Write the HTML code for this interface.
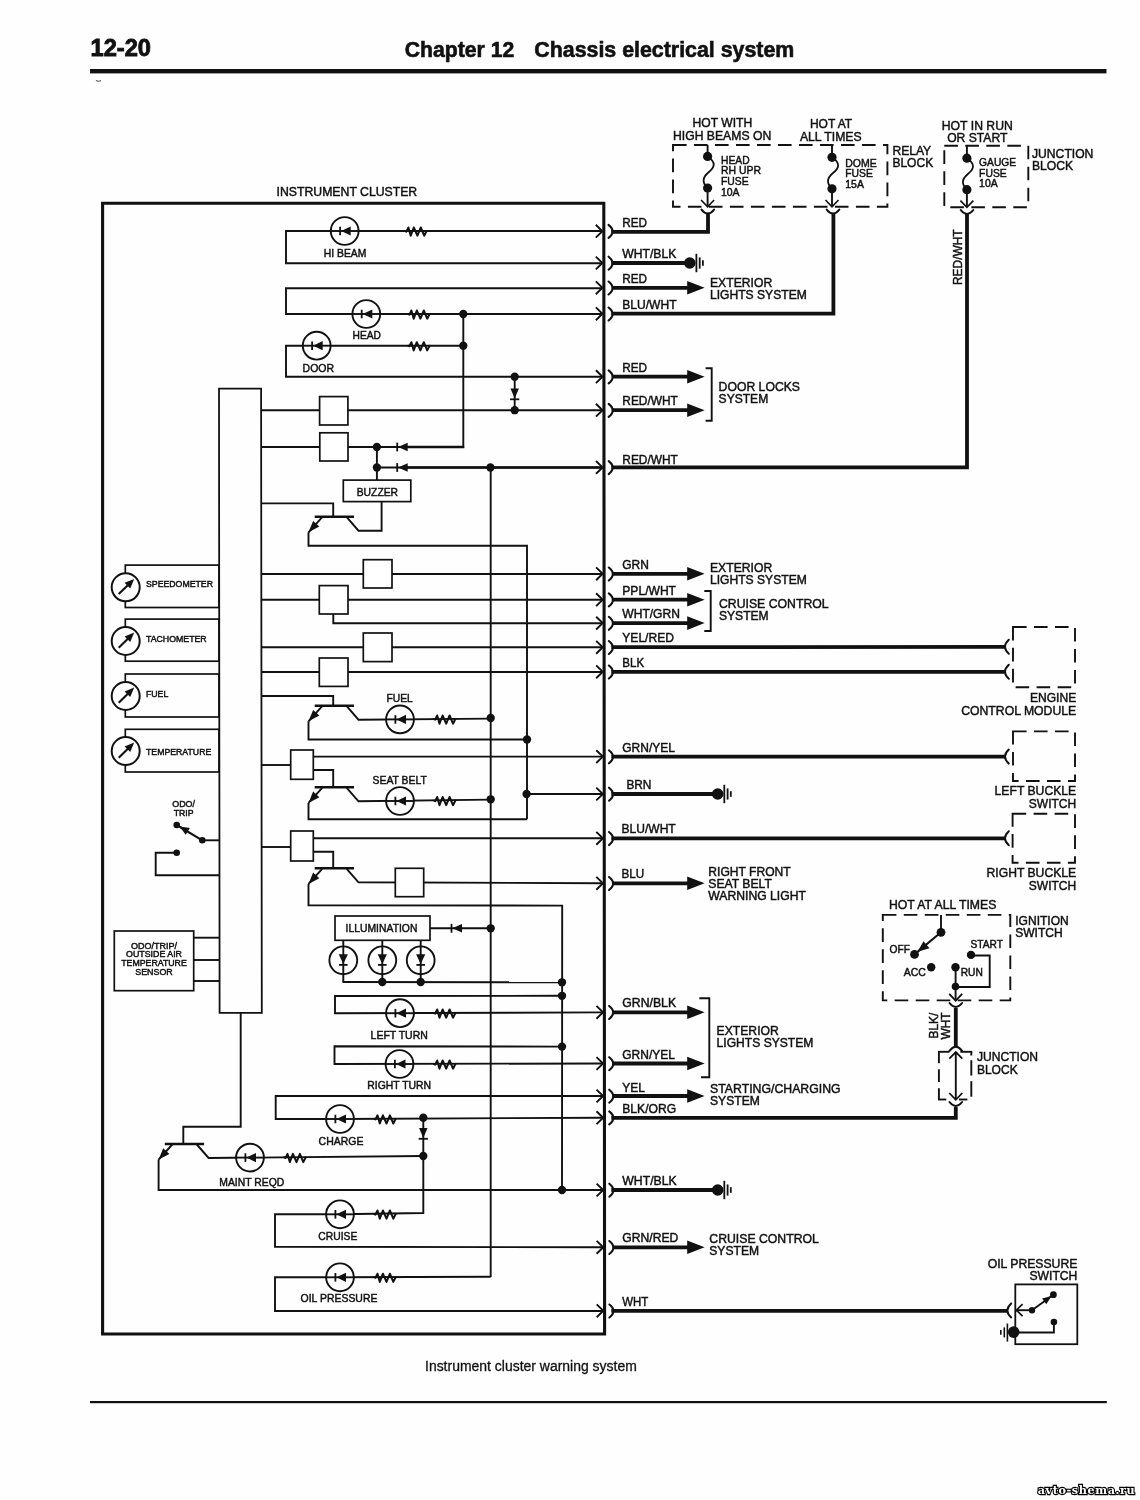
<!DOCTYPE html>
<html lang="en"><head><meta charset="utf-8"><title>Chapter 12 Chassis electrical system - Instrument cluster warning system</title>
<style>
html,body{margin:0;padding:0;background:#fefefe;}
body{width:1140px;height:1500px;overflow:hidden;}
svg{display:block;filter:grayscale(1);}
svg text{font-family:"Liberation Sans",Arial,Helvetica,sans-serif;}
</style></head>
<body>
<svg width="1140" height="1500" viewBox="0 0 1140 1500">
<g stroke="#111" fill="none">
<rect x="90" y="69" width="1016.5" height="4.4" fill="#111" stroke="none"/>
<text x="90.5" y="56.2" font-size="24" textLength="60.5" lengthAdjust="spacingAndGlyphs" font-weight="bold" fill="#111" stroke-width="0.9">12-20</text>
<text x="404.8" y="57.3" font-size="21.3" textLength="109.5" lengthAdjust="spacingAndGlyphs" font-weight="bold" fill="#111" stroke-width="0.6">Chapter 12</text>
<text x="534.3" y="57.3" font-size="21.3" textLength="260" lengthAdjust="spacingAndGlyphs" font-weight="bold" fill="#111" stroke-width="0.6">Chassis electrical system</text>
<rect x="90" y="1401" width="1016.8" height="2.2" fill="#111" stroke="none"/>
<text x="425" y="1370.8" font-size="14" textLength="211.8" lengthAdjust="spacingAndGlyphs" fill="#111" stroke-width="0.3">Instrument cluster warning system</text>
<text x="276.6" y="196" font-size="12.2" textLength="140.6" lengthAdjust="spacingAndGlyphs" fill="#111" stroke-width="0.45">INSTRUMENT CLUSTER</text>
<path d="M96,80.6 Q98.5,82 101,80.6" stroke="#555" stroke-width="1.1" fill="none"/>
<polygon points="102.6,203.2 603.8,203.2 604.6,1334 102.6,1334" stroke-width="3.1" fill="none"/>
<polyline points="602,231 286,231 286,263.3 602,263.3" stroke-width="1.9" stroke-linejoin="miter" stroke-linecap="butt"/>
<circle cx="344.7" cy="231" r="13.9" stroke-width="1.9" fill="#fff"/>
<line x1="330.8" y1="231" x2="358.6" y2="231" stroke-width="1.9" stroke-linecap="butt"/>
<line x1="340.1" y1="226.7" x2="340.1" y2="235.3" stroke-width="1.8" stroke-linecap="butt"/>
<polygon points="341.1,231 350.7,226.4 350.7,235.6" fill="#111" stroke="none"/>
<polyline points="405.2,231 406.4,231.6 408.4,227.5 410.7,235.7 413.8,227.5 417.4,235.7 420.8,227.5 424.2,235.7 426.6,231" stroke-width="2" stroke-linejoin="round" stroke-linecap="round"/>
<text x="323.8" y="256.6" font-size="10.5" textLength="42.6" lengthAdjust="spacingAndGlyphs" fill="#111" stroke-width="0.45">HI BEAM</text>
<polyline points="602,288.2 286,288.2 286,314 602,314" stroke-width="1.9" stroke-linejoin="miter" stroke-linecap="butt"/>
<circle cx="366.3" cy="314" r="13.9" stroke-width="1.9" fill="#fff"/>
<line x1="352.4" y1="314" x2="380.2" y2="314" stroke-width="1.9" stroke-linecap="butt"/>
<line x1="361.7" y1="309.7" x2="361.7" y2="318.3" stroke-width="1.8" stroke-linecap="butt"/>
<polygon points="362.7,314 372.3,309.4 372.3,318.6" fill="#111" stroke="none"/>
<polyline points="408.2,314 409.4,314.6 411.4,310.5 413.7,318.7 416.8,310.5 420.4,318.7 423.8,310.5 427.2,318.7 429.6,314" stroke-width="2" stroke-linejoin="round" stroke-linecap="round"/>
<text x="352.6" y="339" font-size="10.5" textLength="28.4" lengthAdjust="spacingAndGlyphs" fill="#111" stroke-width="0.45">HEAD</text>
<circle cx="463.3" cy="314" r="4.15" fill="#111" stroke="none"/>
<polyline points="463.3,345.7 286,345.7 286,376.7 602,376.7" stroke-width="1.9" stroke-linejoin="miter" stroke-linecap="butt"/>
<circle cx="316.7" cy="345.7" r="13.9" stroke-width="1.9" fill="#fff"/>
<line x1="302.8" y1="345.7" x2="330.6" y2="345.7" stroke-width="1.9" stroke-linecap="butt"/>
<line x1="312.1" y1="341.4" x2="312.1" y2="350" stroke-width="1.8" stroke-linecap="butt"/>
<polygon points="313.1,345.7 322.7,341.1 322.7,350.3" fill="#111" stroke="none"/>
<polyline points="408.2,345.7 409.4,346.3 411.4,342.2 413.7,350.4 416.8,342.2 420.4,350.4 423.8,342.2 427.2,350.4 429.6,345.7" stroke-width="2" stroke-linejoin="round" stroke-linecap="round"/>
<text x="302.6" y="372" font-size="10.5" textLength="31.4" lengthAdjust="spacingAndGlyphs" fill="#111" stroke-width="0.45">DOOR</text>
<circle cx="463.3" cy="345.7" r="4.15" fill="#111" stroke="none"/>
<polyline points="463.3,314 463.3,447 376.9,447" stroke-width="1.9" stroke-linejoin="miter" stroke-linecap="butt"/>
<circle cx="514.7" cy="376.7" r="4.15" fill="#111" stroke="none"/>
<circle cx="514.7" cy="410.2" r="4.15" fill="#111" stroke="none"/>
<line x1="514.7" y1="376.7" x2="514.7" y2="410.2" stroke-width="1.9" stroke-linecap="butt"/>
<polygon points="514.7,398.5 510.5,388.5 518.9,388.5" fill="#111" stroke="none"/>
<line x1="510.1" y1="399.3" x2="519.3" y2="399.3" stroke-width="1.8" stroke-linecap="butt"/>
<polygon points="219,388.7 261.1,388.7 261.8,1012.8 219.6,1012.8" stroke-width="1.8" fill="none"/>
<line x1="261" y1="410.2" x2="602" y2="410.2" stroke-width="1.9" stroke-linecap="butt"/>
<rect x="319.6" y="396.6" width="28.3" height="28.4" stroke-width="1.7" fill="#fff"/>
<line x1="261" y1="447" x2="376.9" y2="447" stroke-width="1.9" stroke-linecap="butt"/>
<rect x="319.8" y="432.8" width="28.2" height="28.2" stroke-width="1.7" fill="#fff"/>
<circle cx="376.9" cy="447" r="4.15" fill="#111" stroke="none"/>
<circle cx="376.9" cy="467.5" r="4.15" fill="#111" stroke="none"/>
<line x1="397.2" y1="442.6" x2="397.2" y2="451.4" stroke-width="1.8" stroke-linecap="butt"/>
<polygon points="398,447 407.7,442.8 407.7,451.2" fill="#111" stroke="none"/>
<line x1="397.2" y1="463.1" x2="397.2" y2="471.9" stroke-width="1.8" stroke-linecap="butt"/>
<polygon points="398,467.5 407.7,463.3 407.7,471.7" fill="#111" stroke="none"/>
<line x1="407" y1="447" x2="464.2" y2="447" stroke-width="2.3" stroke-linecap="butt"/>
<line x1="407" y1="467.5" x2="602" y2="467.5" stroke-width="2.3" stroke-linecap="butt"/>
<line x1="376.9" y1="447" x2="376.9" y2="480" stroke-width="1.9" stroke-linecap="butt"/>
<line x1="376.9" y1="467.5" x2="602" y2="467.5" stroke-width="1.9" stroke-linecap="butt"/>
<circle cx="490.4" cy="467.5" r="4.15" fill="#111" stroke="none"/>
<line x1="490.7" y1="467.5" x2="490.7" y2="1277" stroke-width="1.9" stroke-linecap="butt"/>
<rect x="343.3" y="480.1" width="67.5" height="21.5" stroke-width="1.7" fill="#fff"/>
<text x="356.7" y="495.5" font-size="10.4" textLength="41.4" lengthAdjust="spacingAndGlyphs" fill="#111" stroke-width="0.45">BUZZER</text>
<polyline points="261,503.4 333.2,503.4 333.2,516.7" stroke-width="1.9" stroke-linejoin="miter" stroke-linecap="butt"/>
<line x1="314.7" y1="516.7" x2="354" y2="516.7" stroke-width="2.5" stroke-linecap="butt"/>
<line x1="322.2" y1="517.2" x2="308.5" y2="532.3" stroke-width="1.9" stroke-linecap="butt"/>
<polygon points="308.5,532.3 313.12,520.96 319.34,526.61" fill="#111" stroke="none"/>
<polyline points="308.5,532.3 308.5,545.8 527,545.8 527,819.3" stroke-width="1.9" stroke-linejoin="miter" stroke-linecap="butt"/>
<polyline points="346.7,517.2 358.5,530.7 381.6,530.7 381.6,501.6" stroke-width="1.9" stroke-linejoin="miter" stroke-linecap="butt"/>
<rect x="125.3" y="565.1" width="93.7" height="42.4" stroke-width="1.7" fill="none"/>
<circle cx="125.7" cy="587.3" r="14" stroke-width="2" fill="#fff"/>
<line x1="118.7" y1="594.1" x2="131.2" y2="581.9" stroke-width="2.1" stroke-linecap="butt"/>
<polygon points="134.2,578.9 130.22,588.41 124.62,582.7" fill="#111" stroke="none"/>
<text x="146" y="587" font-size="8.8" textLength="67" lengthAdjust="spacingAndGlyphs" fill="#111" stroke-width="0.45">SPEEDOMETER</text>
<rect x="125.3" y="619.1" width="93.7" height="42.1" stroke-width="1.7" fill="none"/>
<circle cx="125.7" cy="641" r="14" stroke-width="2" fill="#fff"/>
<line x1="118.7" y1="647.8" x2="131.2" y2="635.6" stroke-width="2.1" stroke-linecap="butt"/>
<polygon points="134.2,632.6 130.22,642.11 124.62,636.4" fill="#111" stroke="none"/>
<text x="146" y="641.8" font-size="8.8" textLength="60.7" lengthAdjust="spacingAndGlyphs" fill="#111" stroke-width="0.45">TACHOMETER</text>
<rect x="125.3" y="674" width="93.7" height="43" stroke-width="1.7" fill="none"/>
<circle cx="125.7" cy="696" r="14" stroke-width="2" fill="#fff"/>
<line x1="118.7" y1="702.8" x2="131.2" y2="690.6" stroke-width="2.1" stroke-linecap="butt"/>
<polygon points="134.2,687.6 130.22,697.11 124.62,691.4" fill="#111" stroke="none"/>
<text x="146" y="697.3" font-size="8.8" textLength="22.3" lengthAdjust="spacingAndGlyphs" fill="#111" stroke-width="0.45">FUEL</text>
<rect x="125.3" y="729.3" width="93.7" height="42.7" stroke-width="1.7" fill="none"/>
<circle cx="125.7" cy="751" r="14" stroke-width="2" fill="#fff"/>
<line x1="118.7" y1="757.8" x2="131.2" y2="745.6" stroke-width="2.1" stroke-linecap="butt"/>
<polygon points="134.2,742.6 130.22,752.11 124.62,746.4" fill="#111" stroke="none"/>
<text x="146" y="754.8" font-size="8.8" textLength="65.3" lengthAdjust="spacingAndGlyphs" fill="#111" stroke-width="0.45">TEMPERATURE</text>
<line x1="261" y1="574" x2="602" y2="574" stroke-width="1.9" stroke-linecap="butt"/>
<rect x="363.3" y="559.7" width="28.7" height="28.3" stroke-width="1.7" fill="#fff"/>
<line x1="261" y1="599.7" x2="602" y2="599.7" stroke-width="1.9" stroke-linecap="butt"/>
<rect x="319.3" y="585.6" width="28.7" height="28.4" stroke-width="1.7" fill="#fff"/>
<polyline points="333.3,614 333.3,623.2 602,623.2" stroke-width="1.9" stroke-linejoin="miter" stroke-linecap="butt"/>
<line x1="261" y1="647.3" x2="602" y2="647.3" stroke-width="1.9" stroke-linecap="butt"/>
<rect x="363.3" y="633" width="28.7" height="28.6" stroke-width="1.7" fill="#fff"/>
<line x1="261" y1="672" x2="602" y2="672" stroke-width="1.9" stroke-linecap="butt"/>
<rect x="319.3" y="658" width="28.7" height="28.4" stroke-width="1.7" fill="#fff"/>
<polyline points="261,696 333.2,696 333.2,705.7" stroke-width="1.9" stroke-linejoin="miter" stroke-linecap="butt"/>
<line x1="314.7" y1="705.7" x2="354" y2="705.7" stroke-width="2.5" stroke-linecap="butt"/>
<line x1="322.2" y1="706.2" x2="308.5" y2="721.3" stroke-width="1.9" stroke-linecap="butt"/>
<polygon points="308.5,721.3 313.12,709.96 319.34,715.61" fill="#111" stroke="none"/>
<polyline points="308.5,721.3 308.5,739.5 527,739.5" stroke-width="1.9" stroke-linejoin="miter" stroke-linecap="butt"/>
<circle cx="527" cy="739.5" r="4.15" fill="#111" stroke="none"/>
<polyline points="346.7,706.2 358.5,719.7 490.7,718.6" stroke-width="1.9" stroke-linejoin="miter" stroke-linecap="butt"/>
<circle cx="400" cy="719.4" r="13.9" stroke-width="1.9" fill="#fff"/>
<line x1="386.1" y1="719.4" x2="413.9" y2="719.4" stroke-width="1.9" stroke-linecap="butt"/>
<line x1="395.4" y1="715.1" x2="395.4" y2="723.7" stroke-width="1.8" stroke-linecap="butt"/>
<polygon points="396.4,719.4 406,714.8 406,724" fill="#111" stroke="none"/>
<polyline points="434,719 435.2,719.6 437.2,715.5 439.5,723.7 442.6,715.5 446.2,723.7 449.6,715.5 453,723.7 455.4,719" stroke-width="2" stroke-linejoin="round" stroke-linecap="round"/>
<circle cx="490.7" cy="718" r="4.15" fill="#111" stroke="none"/>
<text x="386.6" y="702.3" font-size="10.5" textLength="26.2" lengthAdjust="spacingAndGlyphs" fill="#111" stroke-width="0.45">FUEL</text>
<line x1="313.3" y1="756.6" x2="602" y2="756.6" stroke-width="1.9" stroke-linecap="butt"/>
<line x1="261" y1="765" x2="291" y2="765" stroke-width="1.9" stroke-linecap="butt"/>
<rect x="290.7" y="750" width="22.6" height="29.3" stroke-width="1.7" fill="#fff"/>
<polyline points="313.3,770 333.2,770 333.2,787.3" stroke-width="1.9" stroke-linejoin="miter" stroke-linecap="butt"/>
<line x1="314.7" y1="787.3" x2="354" y2="787.3" stroke-width="2.5" stroke-linecap="butt"/>
<line x1="322.2" y1="787.8" x2="308.5" y2="802.9" stroke-width="1.9" stroke-linecap="butt"/>
<polygon points="308.5,802.9 313.12,791.56 319.34,797.21" fill="#111" stroke="none"/>
<polyline points="308.5,802.9 308.5,819.3 527,819.3" stroke-width="1.9" stroke-linejoin="miter" stroke-linecap="butt"/>
<polyline points="346.7,787.8 358.5,801.3 490.7,799.6" stroke-width="1.9" stroke-linejoin="miter" stroke-linecap="butt"/>
<circle cx="400" cy="801" r="13.9" stroke-width="1.9" fill="#fff"/>
<line x1="386.1" y1="801" x2="413.9" y2="801" stroke-width="1.9" stroke-linecap="butt"/>
<line x1="395.4" y1="796.7" x2="395.4" y2="805.3" stroke-width="1.8" stroke-linecap="butt"/>
<polygon points="396.4,801 406,796.4 406,805.6" fill="#111" stroke="none"/>
<polyline points="434,800.5 435.2,801.1 437.2,797 439.5,805.2 442.6,797 446.2,805.2 449.6,797 453,805.2 455.4,800.5" stroke-width="2" stroke-linejoin="round" stroke-linecap="round"/>
<circle cx="490.7" cy="799.3" r="4.15" fill="#111" stroke="none"/>
<text x="372.6" y="784" font-size="10.5" textLength="54.2" lengthAdjust="spacingAndGlyphs" fill="#111" stroke-width="0.45">SEAT BELT</text>
<circle cx="526.6" cy="794" r="4.15" fill="#111" stroke="none"/>
<line x1="526.6" y1="794" x2="602" y2="794" stroke-width="1.9" stroke-linecap="butt"/>
<line x1="313.3" y1="838.3" x2="602" y2="838.3" stroke-width="1.9" stroke-linecap="butt"/>
<line x1="261" y1="847" x2="291" y2="847" stroke-width="1.9" stroke-linecap="butt"/>
<rect x="290.7" y="831" width="22.6" height="30" stroke-width="1.7" fill="#fff"/>
<polyline points="313.3,851.7 333.2,851.7 333.2,868.3" stroke-width="1.9" stroke-linejoin="miter" stroke-linecap="butt"/>
<line x1="314.7" y1="868.3" x2="354" y2="868.3" stroke-width="2.5" stroke-linecap="butt"/>
<line x1="322.2" y1="868.8" x2="308.5" y2="883.9" stroke-width="1.9" stroke-linecap="butt"/>
<polygon points="308.5,883.9 313.12,872.56 319.34,878.21" fill="#111" stroke="none"/>
<polyline points="308.5,883.9 308.5,905.2 562.2,905.6 562,1190" stroke-width="1.9" stroke-linejoin="miter" stroke-linecap="butt"/>
<polyline points="346.7,868.8 358.5,882.3 602,883.2" stroke-width="1.9" stroke-linejoin="miter" stroke-linecap="butt"/>
<rect x="395.3" y="868.3" width="28.4" height="28.4" stroke-width="1.7" fill="#fff"/>
<text x="183.6" y="806.6" font-size="8.9" text-anchor="middle" textLength="22.7" lengthAdjust="spacingAndGlyphs" fill="#111" stroke-width="0.45">ODO/</text>
<text x="183.6" y="816" font-size="8.9" text-anchor="middle" textLength="19.8" lengthAdjust="spacingAndGlyphs" fill="#111" stroke-width="0.45">TRIP</text>
<line x1="176.7" y1="825" x2="202.3" y2="840.3" stroke-width="2.1" stroke-linecap="butt"/>
<polygon points="179.6,826.4 189.9,828 185.7,834.8" fill="#111" stroke="none"/>
<circle cx="176.7" cy="825" r="3.3" fill="#111" stroke="none"/>
<circle cx="202.3" cy="840.3" r="3.3" fill="#111" stroke="none"/>
<line x1="202.3" y1="840.3" x2="219" y2="840.3" stroke-width="1.9" stroke-linecap="butt"/>
<polyline points="176.7,852.7 155.7,852.7 155.7,875.3 219,875.3" stroke-width="1.9" stroke-linejoin="miter" stroke-linecap="butt"/>
<circle cx="176.7" cy="852.7" r="3.3" fill="#111" stroke="none"/>
<rect x="114.3" y="931" width="79.4" height="59.7" stroke-width="1.7" fill="#fff"/>
<line x1="193.7" y1="937.7" x2="219" y2="937.7" stroke-width="1.9" stroke-linecap="butt"/>
<line x1="193.7" y1="960" x2="219" y2="960" stroke-width="1.9" stroke-linecap="butt"/>
<line x1="193.7" y1="981" x2="219" y2="981" stroke-width="1.9" stroke-linecap="butt"/>
<text x="154" y="948.6" font-size="8.8" text-anchor="middle" textLength="46" lengthAdjust="spacingAndGlyphs" fill="#111" stroke-width="0.45">ODO/TRIP/</text>
<text x="154" y="957.3" font-size="8.8" text-anchor="middle" textLength="56" lengthAdjust="spacingAndGlyphs" fill="#111" stroke-width="0.45">OUTSIDE AIR</text>
<text x="154" y="966" font-size="8.8" text-anchor="middle" textLength="65.6" lengthAdjust="spacingAndGlyphs" fill="#111" stroke-width="0.45">TEMPERATURE</text>
<text x="154" y="975" font-size="8.8" text-anchor="middle" textLength="37.5" lengthAdjust="spacingAndGlyphs" fill="#111" stroke-width="0.45">SENSOR</text>
<line x1="430" y1="928.3" x2="490.7" y2="928.3" stroke-width="1.9" stroke-linecap="butt"/>
<line x1="451.5" y1="923.9" x2="451.5" y2="932.7" stroke-width="1.8" stroke-linecap="butt"/>
<polygon points="452.3,928.3 462,924.1 462,932.5" fill="#111" stroke="none"/>
<circle cx="490.7" cy="928.3" r="4.15" fill="#111" stroke="none"/>
<line x1="343.3" y1="940.3" x2="343.3" y2="982" stroke-width="1.9" stroke-linecap="butt"/>
<circle cx="343.3" cy="960.3" r="13.9" stroke-width="1.9" fill="#fff"/>
<line x1="343.3" y1="946.4" x2="343.3" y2="974.2" stroke-width="1.9" stroke-linecap="butt"/>
<line x1="339" y1="964.9" x2="347.6" y2="964.9" stroke-width="1.8" stroke-linecap="butt"/>
<polygon points="343.3,963.9 338.7,954.3 347.9,954.3" fill="#111" stroke="none"/>
<line x1="382.3" y1="940.3" x2="382.3" y2="982" stroke-width="1.9" stroke-linecap="butt"/>
<circle cx="382.3" cy="960.3" r="13.9" stroke-width="1.9" fill="#fff"/>
<line x1="382.3" y1="946.4" x2="382.3" y2="974.2" stroke-width="1.9" stroke-linecap="butt"/>
<line x1="378" y1="964.9" x2="386.6" y2="964.9" stroke-width="1.8" stroke-linecap="butt"/>
<polygon points="382.3,963.9 377.7,954.3 386.9,954.3" fill="#111" stroke="none"/>
<line x1="420.7" y1="940.3" x2="420.7" y2="982" stroke-width="1.9" stroke-linecap="butt"/>
<circle cx="420.7" cy="960.3" r="13.9" stroke-width="1.9" fill="#fff"/>
<line x1="420.7" y1="946.4" x2="420.7" y2="974.2" stroke-width="1.9" stroke-linecap="butt"/>
<line x1="416.4" y1="964.9" x2="425" y2="964.9" stroke-width="1.8" stroke-linecap="butt"/>
<polygon points="420.7,963.9 416.1,954.3 425.3,954.3" fill="#111" stroke="none"/>
<rect x="335" y="916" width="95" height="24.3" stroke-width="1.7" fill="#fff"/>
<text x="345.6" y="932" font-size="10.4" textLength="71.8" lengthAdjust="spacingAndGlyphs" fill="#111" stroke-width="0.45">ILLUMINATION</text>
<line x1="342.5" y1="982" x2="562" y2="982.3" stroke-width="1.9" stroke-linecap="butt"/>
<circle cx="382.3" cy="982" r="4.15" fill="#111" stroke="none"/>
<circle cx="420.7" cy="982" r="4.15" fill="#111" stroke="none"/>
<circle cx="562" cy="982.3" r="4.15" fill="#111" stroke="none"/>
<polyline points="562,995.8 335,996 335,1013.2 602,1012.4" stroke-width="1.9" stroke-linejoin="miter" stroke-linecap="butt"/>
<circle cx="400" cy="1013.2" r="13.9" stroke-width="1.9" fill="#fff"/>
<line x1="386.1" y1="1013.2" x2="413.9" y2="1013.2" stroke-width="1.9" stroke-linecap="butt"/>
<line x1="395.4" y1="1008.9" x2="395.4" y2="1017.5" stroke-width="1.8" stroke-linecap="butt"/>
<polygon points="396.4,1013.2 406,1008.6 406,1017.8" fill="#111" stroke="none"/>
<polyline points="434,1013 435.2,1013.6 437.2,1009.5 439.5,1017.7 442.6,1009.5 446.2,1017.7 449.6,1009.5 453,1017.7 455.4,1013" stroke-width="2" stroke-linejoin="round" stroke-linecap="round"/>
<circle cx="562" cy="995.8" r="4.15" fill="#111" stroke="none"/>
<text x="370.6" y="1038.5" font-size="10.5" textLength="57.2" lengthAdjust="spacingAndGlyphs" fill="#111" stroke-width="0.45">LEFT TURN</text>
<polyline points="562,1046.6 334.5,1046.2 334.5,1064 602,1063.5" stroke-width="1.9" stroke-linejoin="miter" stroke-linecap="butt"/>
<circle cx="399.5" cy="1064" r="13.9" stroke-width="1.9" fill="#fff"/>
<line x1="385.6" y1="1064" x2="413.4" y2="1064" stroke-width="1.9" stroke-linecap="butt"/>
<line x1="394.9" y1="1059.7" x2="394.9" y2="1068.3" stroke-width="1.8" stroke-linecap="butt"/>
<polygon points="395.9,1064 405.5,1059.4 405.5,1068.6" fill="#111" stroke="none"/>
<polyline points="434,1064 435.2,1064.6 437.2,1060.5 439.5,1068.7 442.6,1060.5 446.2,1068.7 449.6,1060.5 453,1068.7 455.4,1064" stroke-width="2" stroke-linejoin="round" stroke-linecap="round"/>
<circle cx="562" cy="1046.6" r="4.15" fill="#111" stroke="none"/>
<text x="367.3" y="1089" font-size="10.5" textLength="63.8" lengthAdjust="spacingAndGlyphs" fill="#111" stroke-width="0.45">RIGHT TURN</text>
<polyline points="602,1096 275.7,1096 275.7,1119 340,1119 602,1117.7" stroke-width="1.9" stroke-linejoin="miter" stroke-linecap="butt"/>
<circle cx="340" cy="1119" r="13.9" stroke-width="1.9" fill="#fff"/>
<line x1="326.1" y1="1119" x2="353.9" y2="1119" stroke-width="1.9" stroke-linecap="butt"/>
<line x1="335.4" y1="1114.7" x2="335.4" y2="1123.3" stroke-width="1.8" stroke-linecap="butt"/>
<polygon points="336.4,1119 346,1114.4 346,1123.6" fill="#111" stroke="none"/>
<polyline points="374.3,1118.8 375.5,1119.4 377.5,1115.3 379.8,1123.5 382.9,1115.3 386.5,1123.5 389.9,1115.3 393.3,1123.5 395.7,1118.8" stroke-width="2" stroke-linejoin="round" stroke-linecap="round"/>
<circle cx="423.3" cy="1117.7" r="4.15" fill="#111" stroke="none"/>
<circle cx="423.3" cy="1156" r="4.15" fill="#111" stroke="none"/>
<line x1="423.3" y1="1117.7" x2="423.3" y2="1156" stroke-width="1.9" stroke-linecap="butt"/>
<polygon points="423.3,1138 419.1,1128 427.5,1128" fill="#111" stroke="none"/>
<line x1="418.7" y1="1138.8" x2="427.9" y2="1138.8" stroke-width="1.8" stroke-linecap="butt"/>
<text x="318.6" y="1145" font-size="10.5" textLength="44.8" lengthAdjust="spacingAndGlyphs" fill="#111" stroke-width="0.45">CHARGE</text>
<polyline points="240.7,1012.6 240.7,1126.7 183.3,1126.7 183.3,1144" stroke-width="1.9" stroke-linejoin="miter" stroke-linecap="butt"/>
<line x1="164.8" y1="1144" x2="204.1" y2="1144" stroke-width="2.5" stroke-linecap="butt"/>
<line x1="172.3" y1="1144.5" x2="158.6" y2="1159.6" stroke-width="1.9" stroke-linecap="butt"/>
<polygon points="158.6,1159.6 163.22,1148.26 169.44,1153.91" fill="#111" stroke="none"/>
<polyline points="158.6,1159.6 158.6,1190 602,1190" stroke-width="1.9" stroke-linejoin="miter" stroke-linecap="butt"/>
<circle cx="562" cy="1190" r="4.15" fill="#111" stroke="none"/>
<polyline points="196.8,1144.5 208.6,1158 423.3,1156" stroke-width="1.9" stroke-linejoin="miter" stroke-linecap="butt"/>
<circle cx="250" cy="1157.6" r="13.9" stroke-width="1.9" fill="#fff"/>
<line x1="236.1" y1="1157.6" x2="263.9" y2="1157.6" stroke-width="1.9" stroke-linecap="butt"/>
<line x1="245.4" y1="1153.3" x2="245.4" y2="1161.9" stroke-width="1.8" stroke-linecap="butt"/>
<polygon points="246.4,1157.6 256,1153 256,1162.2" fill="#111" stroke="none"/>
<polyline points="284.3,1157.4 285.5,1158 287.5,1153.9 289.8,1162.1 292.9,1153.9 296.5,1162.1 299.9,1153.9 303.3,1162.1 305.7,1157.4" stroke-width="2" stroke-linejoin="round" stroke-linecap="round"/>
<text x="219.3" y="1185.7" font-size="10.5" textLength="65" lengthAdjust="spacingAndGlyphs" fill="#111" stroke-width="0.45">MAINT REQD</text>
<polyline points="423.3,1156 423.3,1213 340,1214.3 275,1214.3 275,1246.8 602,1247.3" stroke-width="1.9" stroke-linejoin="miter" stroke-linecap="butt"/>
<circle cx="340" cy="1214.3" r="13.9" stroke-width="1.9" fill="#fff"/>
<line x1="326.1" y1="1214.3" x2="353.9" y2="1214.3" stroke-width="1.9" stroke-linecap="butt"/>
<line x1="335.4" y1="1210" x2="335.4" y2="1218.6" stroke-width="1.8" stroke-linecap="butt"/>
<polygon points="336.4,1214.3 346,1209.7 346,1218.9" fill="#111" stroke="none"/>
<polyline points="374.3,1214 375.5,1214.6 377.5,1210.5 379.8,1218.7 382.9,1210.5 386.5,1218.7 389.9,1210.5 393.3,1218.7 395.7,1214" stroke-width="2" stroke-linejoin="round" stroke-linecap="round"/>
<text x="318.3" y="1240" font-size="10.5" textLength="39" lengthAdjust="spacingAndGlyphs" fill="#111" stroke-width="0.45">CRUISE</text>
<polyline points="490.7,1276.8 340,1277.3 275,1277.3 275,1311 602,1311" stroke-width="1.9" stroke-linejoin="miter" stroke-linecap="butt"/>
<circle cx="340" cy="1277.3" r="13.9" stroke-width="1.9" fill="#fff"/>
<line x1="326.1" y1="1277.3" x2="353.9" y2="1277.3" stroke-width="1.9" stroke-linecap="butt"/>
<line x1="335.4" y1="1273" x2="335.4" y2="1281.6" stroke-width="1.8" stroke-linecap="butt"/>
<polygon points="336.4,1277.3 346,1272.7 346,1281.9" fill="#111" stroke="none"/>
<polyline points="374.3,1277.2 375.5,1277.8 377.5,1273.7 379.8,1281.9 382.9,1273.7 386.5,1281.9 389.9,1273.7 393.3,1281.9 395.7,1277.2" stroke-width="2" stroke-linejoin="round" stroke-linecap="round"/>
<text x="300.6" y="1302.3" font-size="10.5" textLength="76.8" lengthAdjust="spacingAndGlyphs" fill="#111" stroke-width="0.45">OIL PRESSURE</text>
<polyline points="595.8,224.8 602.4,231.2 595.8,237.6" stroke-width="1.9" stroke-linejoin="miter" stroke-linecap="butt"/>
<path d="M608.5,224.9 Q616.7,231.4 608.5,237.9" stroke-width="2.1" fill="none" stroke-linecap="round"/>
<text x="622.3" y="226.9" font-size="12.2" textLength="24.8" lengthAdjust="spacingAndGlyphs" fill="#111" stroke-width="0.45">RED</text>
<polyline points="595.83,256.6 602.43,263 595.83,269.4" stroke-width="1.9" stroke-linejoin="miter" stroke-linecap="butt"/>
<path d="M608.53,256.7 Q616.73,263.2 608.53,269.7" stroke-width="2.1" fill="none" stroke-linecap="round"/>
<text x="622.3" y="258.2" font-size="12.2" textLength="54" lengthAdjust="spacingAndGlyphs" fill="#111" stroke-width="0.45">WHT/BLK</text>
<line x1="611.3" y1="263" x2="689.8" y2="263" stroke-width="3.8" stroke-linecap="butt"/>
<circle cx="689.8" cy="263" r="5.8" fill="#111" stroke="none"/>
<line x1="696.4" y1="253.8" x2="696.4" y2="272.2" stroke-width="1.8" stroke-linecap="butt"/>
<line x1="699.7" y1="257.4" x2="699.7" y2="268.6" stroke-width="1.8" stroke-linecap="butt"/>
<line x1="702.9" y1="260.2" x2="702.9" y2="265.8" stroke-width="1.8" stroke-linecap="butt"/>
<polyline points="595.85,281.4 602.45,287.8 595.85,294.2" stroke-width="1.9" stroke-linejoin="miter" stroke-linecap="butt"/>
<path d="M608.55,281.5 Q616.75,288 608.55,294.5" stroke-width="2.1" fill="none" stroke-linecap="round"/>
<text x="622.3" y="282.8" font-size="12.2" textLength="24.8" lengthAdjust="spacingAndGlyphs" fill="#111" stroke-width="0.45">RED</text>
<line x1="611.65" y1="287.8" x2="690.6" y2="287.8" stroke-width="3.8" stroke-linecap="butt"/>
<polygon points="704.6,287.8 687.2,281 687.2,294.6" fill="#111" stroke="none"/>
<polyline points="595.87,307.4 602.47,313.8 595.87,320.2" stroke-width="1.9" stroke-linejoin="miter" stroke-linecap="butt"/>
<path d="M608.57,307.5 Q616.77,314 608.57,320.5" stroke-width="2.1" fill="none" stroke-linecap="round"/>
<text x="622.3" y="308.8" font-size="12.2" textLength="54.2" lengthAdjust="spacingAndGlyphs" fill="#111" stroke-width="0.45">BLU/WHT</text>
<polyline points="595.92,370.3 602.52,376.7 595.92,383.1" stroke-width="1.9" stroke-linejoin="miter" stroke-linecap="butt"/>
<path d="M608.62,370.4 Q616.82,376.9 608.62,383.4" stroke-width="2.1" fill="none" stroke-linecap="round"/>
<text x="622.3" y="371.7" font-size="12.2" textLength="24.8" lengthAdjust="spacingAndGlyphs" fill="#111" stroke-width="0.45">RED</text>
<line x1="611.72" y1="376.7" x2="690.6" y2="376.7" stroke-width="3.8" stroke-linecap="butt"/>
<polygon points="704.6,376.7 687.2,369.9 687.2,383.5" fill="#111" stroke="none"/>
<polyline points="595.95,403.8 602.55,410.2 595.95,416.6" stroke-width="1.9" stroke-linejoin="miter" stroke-linecap="butt"/>
<path d="M608.65,403.9 Q616.85,410.4 608.65,416.9" stroke-width="2.1" fill="none" stroke-linecap="round"/>
<text x="622.3" y="405" font-size="12.2" textLength="55.6" lengthAdjust="spacingAndGlyphs" fill="#111" stroke-width="0.45">RED/WHT</text>
<line x1="611.75" y1="410.2" x2="690.6" y2="410.2" stroke-width="3.8" stroke-linecap="butt"/>
<polygon points="704.6,410.2 687.2,403.4 687.2,417" fill="#111" stroke="none"/>
<polyline points="596,461 602.6,467.4 596,473.8" stroke-width="1.9" stroke-linejoin="miter" stroke-linecap="butt"/>
<path d="M608.7,461.1 Q616.9,467.6 608.7,474.1" stroke-width="2.1" fill="none" stroke-linecap="round"/>
<text x="622.3" y="463.8" font-size="12.2" textLength="55.6" lengthAdjust="spacingAndGlyphs" fill="#111" stroke-width="0.45">RED/WHT</text>
<polyline points="596.09,567.4 602.69,573.8 596.09,580.2" stroke-width="1.9" stroke-linejoin="miter" stroke-linecap="butt"/>
<path d="M608.79,567.5 Q616.99,574 608.79,580.5" stroke-width="2.1" fill="none" stroke-linecap="round"/>
<text x="622.3" y="569" font-size="12.2" textLength="26.6" lengthAdjust="spacingAndGlyphs" fill="#111" stroke-width="0.45">GRN</text>
<line x1="611.89" y1="573.8" x2="690.6" y2="573.8" stroke-width="3.8" stroke-linecap="butt"/>
<polygon points="704.6,573.8 687.2,567 687.2,580.6" fill="#111" stroke="none"/>
<polyline points="596.11,593.3 602.71,599.7 596.11,606.1" stroke-width="1.9" stroke-linejoin="miter" stroke-linecap="butt"/>
<path d="M608.81,593.4 Q617.01,599.9 608.81,606.4" stroke-width="2.1" fill="none" stroke-linecap="round"/>
<text x="622.3" y="595" font-size="12.2" textLength="53.7" lengthAdjust="spacingAndGlyphs" fill="#111" stroke-width="0.45">PPL/WHT</text>
<line x1="611.91" y1="599.7" x2="690.6" y2="599.7" stroke-width="3.8" stroke-linecap="butt"/>
<polygon points="704.6,599.7 687.2,592.9 687.2,606.5" fill="#111" stroke="none"/>
<polyline points="596.13,616.7 602.73,623.1 596.13,629.5" stroke-width="1.9" stroke-linejoin="miter" stroke-linecap="butt"/>
<path d="M608.83,616.8 Q617.03,623.3 608.83,629.8" stroke-width="2.1" fill="none" stroke-linecap="round"/>
<text x="622.3" y="617.7" font-size="12.2" textLength="57.6" lengthAdjust="spacingAndGlyphs" fill="#111" stroke-width="0.45">WHT/GRN</text>
<line x1="611.93" y1="623.1" x2="690.6" y2="623.1" stroke-width="3.8" stroke-linecap="butt"/>
<polygon points="704.6,623.1 687.2,616.3 687.2,629.9" fill="#111" stroke="none"/>
<polyline points="596.15,640.9 602.75,647.3 596.15,653.7" stroke-width="1.9" stroke-linejoin="miter" stroke-linecap="butt"/>
<path d="M608.85,641 Q617.05,647.5 608.85,654" stroke-width="2.1" fill="none" stroke-linecap="round"/>
<text x="622.3" y="642.3" font-size="12.2" textLength="51.6" lengthAdjust="spacingAndGlyphs" fill="#111" stroke-width="0.45">YEL/RED</text>
<polyline points="596.17,665.4 602.77,671.8 596.17,678.2" stroke-width="1.9" stroke-linejoin="miter" stroke-linecap="butt"/>
<path d="M608.87,665.5 Q617.07,672 608.87,678.5" stroke-width="2.1" fill="none" stroke-linecap="round"/>
<text x="622.3" y="667.3" font-size="12.2" textLength="21.8" lengthAdjust="spacingAndGlyphs" fill="#111" stroke-width="0.45">BLK</text>
<polyline points="596.24,750.2 602.84,756.6 596.24,763" stroke-width="1.9" stroke-linejoin="miter" stroke-linecap="butt"/>
<path d="M608.94,750.3 Q617.14,756.8 608.94,763.3" stroke-width="2.1" fill="none" stroke-linecap="round"/>
<text x="622.3" y="751.7" font-size="12.2" textLength="52.6" lengthAdjust="spacingAndGlyphs" fill="#111" stroke-width="0.45">GRN/YEL</text>
<polyline points="596.27,787.6 602.87,794 596.27,800.4" stroke-width="1.9" stroke-linejoin="miter" stroke-linecap="butt"/>
<path d="M608.97,787.7 Q617.17,794.2 608.97,800.7" stroke-width="2.1" fill="none" stroke-linecap="round"/>
<text x="626.4" y="789" font-size="12.2" textLength="25" lengthAdjust="spacingAndGlyphs" fill="#111" stroke-width="0.45">BRN</text>
<line x1="611.3" y1="794" x2="717.7" y2="794" stroke-width="3.8" stroke-linecap="butt"/>
<circle cx="717.7" cy="794" r="5.8" fill="#111" stroke="none"/>
<line x1="724.3" y1="784.8" x2="724.3" y2="803.2" stroke-width="1.8" stroke-linecap="butt"/>
<line x1="727.6" y1="788.4" x2="727.6" y2="799.6" stroke-width="1.8" stroke-linecap="butt"/>
<line x1="730.8" y1="791.2" x2="730.8" y2="796.8" stroke-width="1.8" stroke-linecap="butt"/>
<polyline points="596.31,831.9 602.91,838.3 596.31,844.7" stroke-width="1.9" stroke-linejoin="miter" stroke-linecap="butt"/>
<path d="M609.01,832 Q617.21,838.5 609.01,845" stroke-width="2.1" fill="none" stroke-linecap="round"/>
<text x="621.5" y="833.3" font-size="12.2" textLength="54.2" lengthAdjust="spacingAndGlyphs" fill="#111" stroke-width="0.45">BLU/WHT</text>
<polyline points="596.34,876.9 602.94,883.3 596.34,889.7" stroke-width="1.9" stroke-linejoin="miter" stroke-linecap="butt"/>
<path d="M609.04,877 Q617.24,883.5 609.04,890" stroke-width="2.1" fill="none" stroke-linecap="round"/>
<text x="621.5" y="877.7" font-size="12.2" textLength="22.8" lengthAdjust="spacingAndGlyphs" fill="#111" stroke-width="0.45">BLU</text>
<line x1="612.14" y1="883.3" x2="690.6" y2="883.3" stroke-width="3.8" stroke-linecap="butt"/>
<polygon points="704.6,883.3 687.2,876.5 687.2,890.1" fill="#111" stroke="none"/>
<polyline points="596.45,1005.9 603.05,1012.3 596.45,1018.7" stroke-width="1.9" stroke-linejoin="miter" stroke-linecap="butt"/>
<path d="M609.15,1006 Q617.35,1012.5 609.15,1019" stroke-width="2.1" fill="none" stroke-linecap="round"/>
<text x="622.3" y="1007.3" font-size="12.2" textLength="53.8" lengthAdjust="spacingAndGlyphs" fill="#111" stroke-width="0.45">GRN/BLK</text>
<line x1="612.25" y1="1012.3" x2="690.6" y2="1012.3" stroke-width="3.8" stroke-linecap="butt"/>
<polygon points="704.6,1012.3 687.2,1005.5 687.2,1019.1" fill="#111" stroke="none"/>
<polyline points="596.49,1057.1 603.09,1063.5 596.49,1069.9" stroke-width="1.9" stroke-linejoin="miter" stroke-linecap="butt"/>
<path d="M609.19,1057.2 Q617.39,1063.7 609.19,1070.2" stroke-width="2.1" fill="none" stroke-linecap="round"/>
<text x="622.3" y="1059.3" font-size="12.2" textLength="52.6" lengthAdjust="spacingAndGlyphs" fill="#111" stroke-width="0.45">GRN/YEL</text>
<line x1="612.29" y1="1063.5" x2="690.6" y2="1063.5" stroke-width="3.8" stroke-linecap="butt"/>
<polygon points="704.6,1063.5 687.2,1056.7 687.2,1070.3" fill="#111" stroke="none"/>
<polyline points="596.52,1089.6 603.12,1096 596.52,1102.4" stroke-width="1.9" stroke-linejoin="miter" stroke-linecap="butt"/>
<path d="M609.22,1089.7 Q617.42,1096.2 609.22,1102.7" stroke-width="2.1" fill="none" stroke-linecap="round"/>
<text x="622.3" y="1091.7" font-size="12.2" textLength="22.6" lengthAdjust="spacingAndGlyphs" fill="#111" stroke-width="0.45">YEL</text>
<line x1="612.32" y1="1096" x2="690.6" y2="1096" stroke-width="3.8" stroke-linecap="butt"/>
<polygon points="704.6,1096 687.2,1089.2 687.2,1102.8" fill="#111" stroke="none"/>
<polyline points="596.54,1111.3 603.14,1117.7 596.54,1124.1" stroke-width="1.9" stroke-linejoin="miter" stroke-linecap="butt"/>
<path d="M609.24,1111.4 Q617.44,1117.9 609.24,1124.4" stroke-width="2.1" fill="none" stroke-linecap="round"/>
<text x="622.3" y="1113.3" font-size="12.2" textLength="53.8" lengthAdjust="spacingAndGlyphs" fill="#111" stroke-width="0.45">BLK/ORG</text>
<polyline points="596.6,1183.6 603.2,1190 596.6,1196.4" stroke-width="1.9" stroke-linejoin="miter" stroke-linecap="butt"/>
<path d="M609.3,1183.7 Q617.5,1190.2 609.3,1196.7" stroke-width="2.1" fill="none" stroke-linecap="round"/>
<text x="622.3" y="1185" font-size="12.2" textLength="54.4" lengthAdjust="spacingAndGlyphs" fill="#111" stroke-width="0.45">WHT/BLK</text>
<line x1="611.3" y1="1190" x2="717.7" y2="1190" stroke-width="3.8" stroke-linecap="butt"/>
<circle cx="717.7" cy="1190" r="5.8" fill="#111" stroke="none"/>
<line x1="724.3" y1="1180.8" x2="724.3" y2="1199.2" stroke-width="1.8" stroke-linecap="butt"/>
<line x1="727.6" y1="1184.4" x2="727.6" y2="1195.6" stroke-width="1.8" stroke-linecap="butt"/>
<line x1="730.8" y1="1187.2" x2="730.8" y2="1192.8" stroke-width="1.8" stroke-linecap="butt"/>
<polyline points="596.65,1240.9 603.25,1247.3 596.65,1253.7" stroke-width="1.9" stroke-linejoin="miter" stroke-linecap="butt"/>
<path d="M609.35,1241 Q617.55,1247.5 609.35,1254" stroke-width="2.1" fill="none" stroke-linecap="round"/>
<text x="622.3" y="1242.3" font-size="12.2" textLength="56" lengthAdjust="spacingAndGlyphs" fill="#111" stroke-width="0.45">GRN/RED</text>
<line x1="612.45" y1="1247.3" x2="690.6" y2="1247.3" stroke-width="3.8" stroke-linecap="butt"/>
<polygon points="704.6,1247.3 687.2,1240.5 687.2,1254.1" fill="#111" stroke="none"/>
<polyline points="596.7,1304.4 603.3,1310.8 596.7,1317.2" stroke-width="1.9" stroke-linejoin="miter" stroke-linecap="butt"/>
<path d="M609.4,1304.5 Q617.6,1311 609.4,1317.5" stroke-width="2.1" fill="none" stroke-linecap="round"/>
<text x="622.3" y="1306" font-size="12.2" textLength="26" lengthAdjust="spacingAndGlyphs" fill="#111" stroke-width="0.45">WHT</text>
<polyline points="611.3,231.9 708,231.9 708,213.6" stroke-width="3.8" stroke-linejoin="miter" stroke-linecap="butt"/>
<polyline points="611.3,313.7 833.4,313.7 833.4,213.6" stroke-width="3.8" stroke-linejoin="miter" stroke-linecap="butt"/>
<polyline points="611.3,467.4 967,467.4 967,214" stroke-width="3.8" stroke-linejoin="miter" stroke-linecap="butt"/>
<polyline points="611.3,647.2 1005.6,646.8" stroke-width="3.8" stroke-linejoin="miter" stroke-linecap="butt"/>
<polyline points="611.3,671.8 1005.6,671.8" stroke-width="3.8" stroke-linejoin="miter" stroke-linecap="butt"/>
<polyline points="611.3,756.6 1005.6,756.6" stroke-width="3.8" stroke-linejoin="miter" stroke-linecap="butt"/>
<polyline points="611.3,838.3 1005.6,838.3" stroke-width="3.8" stroke-linejoin="miter" stroke-linecap="butt"/>
<polyline points="611.3,1117.8 955.8,1117.8 955.8,1107" stroke-width="3.8" stroke-linejoin="miter" stroke-linecap="butt"/>
<polyline points="611.3,1310.8 1007.6,1310.8" stroke-width="3.8" stroke-linejoin="miter" stroke-linecap="butt"/>
<line x1="955.8" y1="1008" x2="955.8" y2="1047" stroke-width="3.8" stroke-linecap="butt"/>
<text x="710" y="286.6" font-size="12.2" textLength="62.2" lengthAdjust="spacingAndGlyphs" fill="#111" stroke-width="0.45">EXTERIOR</text>
<text x="710" y="298.6" font-size="12.2" textLength="96.8" lengthAdjust="spacingAndGlyphs" fill="#111" stroke-width="0.45">LIGHTS SYSTEM</text>
<text x="718.6" y="391" font-size="12.2" textLength="81.4" lengthAdjust="spacingAndGlyphs" fill="#111" stroke-width="0.45">DOOR LOCKS</text>
<text x="718.6" y="403.3" font-size="12.2" textLength="49.6" lengthAdjust="spacingAndGlyphs" fill="#111" stroke-width="0.45">SYSTEM</text>
<polyline points="705.6,368.3 711.7,368.3 711.7,420.7 705.6,420.7" stroke-width="1.9" stroke-linejoin="miter" stroke-linecap="butt"/>
<text x="710" y="572.3" font-size="12.2" textLength="62.2" lengthAdjust="spacingAndGlyphs" fill="#111" stroke-width="0.45">EXTERIOR</text>
<text x="710" y="584.3" font-size="12.2" textLength="96.8" lengthAdjust="spacingAndGlyphs" fill="#111" stroke-width="0.45">LIGHTS SYSTEM</text>
<polyline points="704.3,591 710.7,591 710.7,631 704.3,631" stroke-width="1.9" stroke-linejoin="miter" stroke-linecap="butt"/>
<text x="719" y="608.3" font-size="12.2" textLength="109.6" lengthAdjust="spacingAndGlyphs" fill="#111" stroke-width="0.45">CRUISE CONTROL</text>
<text x="719" y="620" font-size="12.2" textLength="49.6" lengthAdjust="spacingAndGlyphs" fill="#111" stroke-width="0.45">SYSTEM</text>
<text x="708.3" y="875.7" font-size="12.2" textLength="82.4" lengthAdjust="spacingAndGlyphs" fill="#111" stroke-width="0.45">RIGHT FRONT</text>
<text x="708.3" y="888.3" font-size="12.2" textLength="63.6" lengthAdjust="spacingAndGlyphs" fill="#111" stroke-width="0.45">SEAT BELT</text>
<text x="708.3" y="900.3" font-size="12.2" textLength="97.6" lengthAdjust="spacingAndGlyphs" fill="#111" stroke-width="0.45">WARNING LIGHT</text>
<polyline points="699.3,998.3 709.3,998.3 709.3,1077.3 701,1077.3" stroke-width="1.9" stroke-linejoin="miter" stroke-linecap="butt"/>
<text x="716.6" y="1035" font-size="12.2" textLength="62.2" lengthAdjust="spacingAndGlyphs" fill="#111" stroke-width="0.45">EXTERIOR</text>
<text x="716.6" y="1046.7" font-size="12.2" textLength="96.8" lengthAdjust="spacingAndGlyphs" fill="#111" stroke-width="0.45">LIGHTS SYSTEM</text>
<text x="710" y="1092.7" font-size="12.2" textLength="130.6" lengthAdjust="spacingAndGlyphs" fill="#111" stroke-width="0.45">STARTING/CHARGING</text>
<text x="710" y="1105" font-size="12.2" textLength="49.8" lengthAdjust="spacingAndGlyphs" fill="#111" stroke-width="0.45">SYSTEM</text>
<text x="709.3" y="1243.3" font-size="12.2" textLength="109.6" lengthAdjust="spacingAndGlyphs" fill="#111" stroke-width="0.45">CRUISE CONTROL</text>
<text x="709.3" y="1255.2" font-size="12.2" textLength="49.8" lengthAdjust="spacingAndGlyphs" fill="#111" stroke-width="0.45">SYSTEM</text>
<rect x="673" y="145" width="214.4" height="61.7" stroke-width="1.9" fill="none" stroke-dasharray="13.6 7.4"/>
<line x1="707.6" y1="145" x2="707.6" y2="156.4" stroke-width="1.9" stroke-linecap="butt"/>
<circle cx="707.6" cy="156.4" r="4.6" fill="#111" stroke="none"/>
<circle cx="707.6" cy="188" r="4.6" fill="#111" stroke="none"/>
<path d="M707.6,156.4 C716.6,162.4 714.6,167.4 708.6,172.2 C701.6,178 702.6,183 707.6,188" stroke-width="1.8" fill="none" stroke-linecap="butt"/>
<line x1="707.6" y1="188" x2="707.6" y2="206.5" stroke-width="1.9" stroke-linecap="butt"/>
<polyline points="701.1,200 707.6,206.8 714.1,200" stroke-width="1.6" stroke-linejoin="miter" stroke-linecap="butt"/>
<line x1="832" y1="145" x2="832" y2="157.3" stroke-width="1.9" stroke-linecap="butt"/>
<circle cx="832" cy="157.3" r="4.6" fill="#111" stroke="none"/>
<circle cx="832" cy="188.8" r="4.6" fill="#111" stroke="none"/>
<path d="M832,157.3 C841,163.3 839,168.3 833,173.05 C826,178.8 827,183.8 832,188.8" stroke-width="1.8" fill="none" stroke-linecap="butt"/>
<line x1="832" y1="188.8" x2="832" y2="206.5" stroke-width="1.9" stroke-linecap="butt"/>
<polyline points="825.5,200 832,206.8 838.5,200" stroke-width="1.6" stroke-linejoin="miter" stroke-linecap="butt"/>
<path d="M701.5,209.6 Q707.8,217.6 714.1,209.6" stroke-width="2" fill="none" stroke-linecap="round"/>
<path d="M826.7,209.6 Q833,217.6 839.3,209.6" stroke-width="2" fill="none" stroke-linecap="round"/>
<text x="722.4" y="127.4" font-size="12.2" text-anchor="middle" textLength="59.6" lengthAdjust="spacingAndGlyphs" fill="#111" stroke-width="0.45">HOT WITH</text>
<text x="722.1" y="140" font-size="12.2" text-anchor="middle" textLength="98.2" lengthAdjust="spacingAndGlyphs" fill="#111" stroke-width="0.45">HIGH BEAMS ON</text>
<text x="831" y="128.4" font-size="12.2" text-anchor="middle" textLength="42.2" lengthAdjust="spacingAndGlyphs" fill="#111" stroke-width="0.45">HOT AT</text>
<text x="830.8" y="141" font-size="12.2" text-anchor="middle" textLength="61.7" lengthAdjust="spacingAndGlyphs" fill="#111" stroke-width="0.45">ALL TIMES</text>
<text x="721" y="163.6" font-size="10.5" textLength="28.6" lengthAdjust="spacingAndGlyphs" fill="#111" stroke-width="0.45">HEAD</text>
<text x="721" y="174.33" font-size="10.5" textLength="40" lengthAdjust="spacingAndGlyphs" fill="#111" stroke-width="0.45">RH UPR</text>
<text x="721" y="185.06" font-size="10.5" textLength="27.6" lengthAdjust="spacingAndGlyphs" fill="#111" stroke-width="0.45">FUSE</text>
<text x="721" y="195.79" font-size="10.5" textLength="18.6" lengthAdjust="spacingAndGlyphs" fill="#111" stroke-width="0.45">10A</text>
<text x="845.3" y="167" font-size="10.5" textLength="31.4" lengthAdjust="spacingAndGlyphs" fill="#111" stroke-width="0.45">DOME</text>
<text x="845.3" y="177.4" font-size="10.5" textLength="27.6" lengthAdjust="spacingAndGlyphs" fill="#111" stroke-width="0.45">FUSE</text>
<text x="845.3" y="187.8" font-size="10.5" textLength="18.6" lengthAdjust="spacingAndGlyphs" fill="#111" stroke-width="0.45">15A</text>
<text x="892.4" y="154.8" font-size="12.2" textLength="38.8" lengthAdjust="spacingAndGlyphs" fill="#111" stroke-width="0.45">RELAY</text>
<text x="892.4" y="167" font-size="12.2" textLength="40.8" lengthAdjust="spacingAndGlyphs" fill="#111" stroke-width="0.45">BLOCK</text>
<rect x="944.3" y="145.7" width="84" height="61.6" stroke-width="1.9" fill="none" stroke-dasharray="13.6 7.4"/>
<line x1="966.9" y1="145.7" x2="966.9" y2="158.2" stroke-width="1.9" stroke-linecap="butt"/>
<circle cx="966.9" cy="158.2" r="4.6" fill="#111" stroke="none"/>
<circle cx="966.9" cy="189.7" r="4.6" fill="#111" stroke="none"/>
<path d="M966.9,158.2 C975.9,164.2 973.9,169.2 967.9,173.95 C960.9,179.7 961.9,184.7 966.9,189.7" stroke-width="1.8" fill="none" stroke-linecap="butt"/>
<line x1="966.9" y1="189.7" x2="966.9" y2="207.1" stroke-width="1.9" stroke-linecap="butt"/>
<polyline points="960.4,200.6 966.9,207.4 973.4,200.6" stroke-width="1.6" stroke-linejoin="miter" stroke-linecap="butt"/>
<path d="M960.7,210 Q967,218 973.3,210" stroke-width="2" fill="none" stroke-linecap="round"/>
<text x="977.3" y="130" font-size="12.2" text-anchor="middle" textLength="71" lengthAdjust="spacingAndGlyphs" fill="#111" stroke-width="0.45">HOT IN RUN</text>
<text x="977.3" y="141.8" font-size="12.2" text-anchor="middle" textLength="60.2" lengthAdjust="spacingAndGlyphs" fill="#111" stroke-width="0.45">OR START</text>
<text x="979.1" y="166.3" font-size="10.5" textLength="37.1" lengthAdjust="spacingAndGlyphs" fill="#111" stroke-width="0.45">GAUGE</text>
<text x="979.1" y="176.85" font-size="10.5" textLength="27.6" lengthAdjust="spacingAndGlyphs" fill="#111" stroke-width="0.45">FUSE</text>
<text x="979.1" y="187.4" font-size="10.5" textLength="18.6" lengthAdjust="spacingAndGlyphs" fill="#111" stroke-width="0.45">10A</text>
<text x="1032" y="157.7" font-size="12.2" textLength="61.4" lengthAdjust="spacingAndGlyphs" fill="#111" stroke-width="0.45">JUNCTION</text>
<text x="1032" y="169.5" font-size="12.2" textLength="41.2" lengthAdjust="spacingAndGlyphs" fill="#111" stroke-width="0.45">BLOCK</text>
<text x="962.4" y="285" font-size="12.2" textLength="55.6" lengthAdjust="spacingAndGlyphs" transform="rotate(-90 962.4 285)" fill="#111" stroke-width="0.45">RED/WHT</text>
<rect x="1013" y="627" width="62" height="60.2" stroke-width="1.9" fill="none" stroke-dasharray="13.6 7.4"/>
<path d="M1008.8,639.8 Q1001.2,646.8 1008.8,653.8" stroke-width="2" fill="none" stroke-linecap="round"/>
<path d="M1008.8,664.8 Q1001.2,671.8 1008.8,678.8" stroke-width="2" fill="none" stroke-linecap="round"/>
<text x="1076.2" y="702" font-size="12.2" text-anchor="end" textLength="46.2" lengthAdjust="spacingAndGlyphs" fill="#111" stroke-width="0.45">ENGINE</text>
<text x="1076.2" y="714.7" font-size="12.2" text-anchor="end" textLength="115" lengthAdjust="spacingAndGlyphs" fill="#111" stroke-width="0.45">CONTROL MODULE</text>
<rect x="1013" y="731.4" width="62" height="49.6" stroke-width="1.9" fill="none" stroke-dasharray="13.6 7.4"/>
<path d="M1008.8,749.6 Q1001.2,756.6 1008.8,763.6" stroke-width="2" fill="none" stroke-linecap="round"/>
<text x="1076.2" y="795.3" font-size="12.2" text-anchor="end" textLength="81.6" lengthAdjust="spacingAndGlyphs" fill="#111" stroke-width="0.45">LEFT BUCKLE</text>
<text x="1076.2" y="807.6" font-size="12.2" text-anchor="end" textLength="47.4" lengthAdjust="spacingAndGlyphs" fill="#111" stroke-width="0.45">SWITCH</text>
<rect x="1012.6" y="813.7" width="62.4" height="49.1" stroke-width="1.9" fill="none" stroke-dasharray="13.6 7.4"/>
<path d="M1008.8,831.3 Q1001.2,838.3 1008.8,845.3" stroke-width="2" fill="none" stroke-linecap="round"/>
<text x="1076.2" y="877" font-size="12.2" text-anchor="end" textLength="89.7" lengthAdjust="spacingAndGlyphs" fill="#111" stroke-width="0.45">RIGHT BUCKLE</text>
<text x="1076.2" y="889.9" font-size="12.2" text-anchor="end" textLength="47.4" lengthAdjust="spacingAndGlyphs" fill="#111" stroke-width="0.45">SWITCH</text>
<text x="889" y="909.1" font-size="12.2" textLength="107.3" lengthAdjust="spacingAndGlyphs" fill="#111" stroke-width="0.45">HOT AT ALL TIMES</text>
<rect x="882.8" y="914.9" width="127.5" height="85.5" stroke-width="1.9" fill="none" stroke-dasharray="13.6 7.4"/>
<text x="1015.2" y="924.7" font-size="12.2" textLength="53.6" lengthAdjust="spacingAndGlyphs" fill="#111" stroke-width="0.45">IGNITION</text>
<text x="1015.2" y="937" font-size="12.2" textLength="47.5" lengthAdjust="spacingAndGlyphs" fill="#111" stroke-width="0.45">SWITCH</text>
<line x1="941" y1="915" x2="941" y2="932.3" stroke-width="1.9" stroke-linecap="butt"/>
<line x1="941" y1="932.3" x2="914.5" y2="954.4" stroke-width="2.1" stroke-linecap="butt"/>
<polygon points="917.5,951.7 923.5,941.2 929.5,948.2" fill="#111" stroke="none"/>
<circle cx="941" cy="932.3" r="4.4" fill="#111" stroke="none"/>
<circle cx="914.5" cy="954.4" r="4.4" fill="#111" stroke="none"/>
<text x="889.5" y="952.5" font-size="10.2" textLength="20.4" lengthAdjust="spacingAndGlyphs" fill="#111" stroke-width="0.45">OFF</text>
<circle cx="931.2" cy="967.2" r="4.2" fill="#111" stroke="none"/>
<text x="903.7" y="975.8" font-size="10.2" textLength="22.1" lengthAdjust="spacingAndGlyphs" fill="#111" stroke-width="0.45">ACC</text>
<circle cx="971" cy="954.9" r="4.2" fill="#111" stroke="none"/>
<text x="970.5" y="948.3" font-size="10.2" textLength="32.5" lengthAdjust="spacingAndGlyphs" fill="#111" stroke-width="0.45">START</text>
<circle cx="955.5" cy="967.2" r="4.2" fill="#111" stroke="none"/>
<text x="960.7" y="975.8" font-size="10.2" textLength="22.1" lengthAdjust="spacingAndGlyphs" fill="#111" stroke-width="0.45">RUN</text>
<circle cx="955.5" cy="986.5" r="3.8" fill="#111" stroke="none"/>
<polyline points="971,955.5 989.7,955.5 989.7,987 955.5,987" stroke-width="1.9" stroke-linejoin="miter" stroke-linecap="butt"/>
<line x1="955.6" y1="967" x2="955.6" y2="1000.6" stroke-width="1.9" stroke-linecap="butt"/>
<polyline points="949.2,993.8 955.7,1000.6 962.2,993.8" stroke-width="1.8" stroke-linejoin="miter" stroke-linecap="butt"/>
<path d="M949.5,1003 Q955.8,1011 962.1,1003" stroke-width="2" fill="none" stroke-linecap="round"/>
<text x="938.2" y="1038.6" font-size="12.4" textLength="26" lengthAdjust="spacingAndGlyphs" transform="rotate(-90 938.2 1038.6)" fill="#111" stroke-width="0.45">BLK/</text>
<text x="950.1" y="1039.6" font-size="12.4" textLength="27.2" lengthAdjust="spacingAndGlyphs" transform="rotate(-90 950.1 1039.6)" fill="#111" stroke-width="0.45">WHT</text>
<line x1="938.9" y1="1051.8" x2="938.9" y2="1063.2" stroke-width="1.9" stroke-linecap="butt"/>
<line x1="938.9" y1="1069.3" x2="938.9" y2="1082" stroke-width="1.9" stroke-linecap="butt"/>
<line x1="938.9" y1="1088.2" x2="938.9" y2="1099.5" stroke-width="1.9" stroke-linecap="butt"/>
<line x1="971.3" y1="1051.8" x2="971.3" y2="1055.5" stroke-width="1.9" stroke-linecap="butt"/>
<line x1="971.3" y1="1060.2" x2="971.3" y2="1075.6" stroke-width="1.9" stroke-linecap="butt"/>
<line x1="971.3" y1="1081.2" x2="971.3" y2="1096.7" stroke-width="1.9" stroke-linecap="butt"/>
<line x1="938" y1="1051.8" x2="949.5" y2="1051.8" stroke-width="1.9" stroke-linecap="butt"/>
<line x1="960.3" y1="1051.8" x2="972.2" y2="1051.8" stroke-width="1.9" stroke-linecap="butt"/>
<line x1="938" y1="1099.5" x2="946.3" y2="1099.5" stroke-width="1.9" stroke-linecap="butt"/>
<line x1="959" y1="1099.5" x2="967.4" y2="1099.5" stroke-width="1.9" stroke-linecap="butt"/>
<path d="M949.5,1050.8 Q955.8,1042.8 962.1,1050.8" stroke-width="2" fill="none" stroke-linecap="round"/>
<line x1="955.8" y1="1052" x2="955.8" y2="1100" stroke-width="1.9" stroke-linecap="butt"/>
<polyline points="949.3,1058.6 955.8,1052 962.3,1058.6" stroke-width="1.8" stroke-linejoin="miter" stroke-linecap="butt"/>
<polyline points="949.3,1093 955.8,1099.8 962.3,1093" stroke-width="1.8" stroke-linejoin="miter" stroke-linecap="butt"/>
<path d="M949.5,1102 Q955.8,1110 962.1,1102" stroke-width="2" fill="none" stroke-linecap="round"/>
<text x="976.9" y="1061" font-size="12.4" textLength="61.2" lengthAdjust="spacingAndGlyphs" fill="#111" stroke-width="0.45">JUNCTION</text>
<text x="976.9" y="1073.5" font-size="12.4" textLength="40.8" lengthAdjust="spacingAndGlyphs" fill="#111" stroke-width="0.45">BLOCK</text>
<text x="1077.4" y="1267.6" font-size="12.2" text-anchor="end" textLength="89.7" lengthAdjust="spacingAndGlyphs" fill="#111" stroke-width="0.45">OIL PRESSURE</text>
<text x="1077.4" y="1279.9" font-size="12.2" text-anchor="end" textLength="47.9" lengthAdjust="spacingAndGlyphs" fill="#111" stroke-width="0.45">SWITCH</text>
<rect x="1015.3" y="1284.4" width="62" height="59.8" stroke-width="1.8" fill="none"/>
<path d="M1011.2,1303.4 Q1003.6,1310.4 1011.2,1317.4" stroke-width="2" fill="none" stroke-linecap="round"/>
<line x1="1016.3" y1="1310.2" x2="1032" y2="1310.2" stroke-width="1.9" stroke-linecap="butt"/>
<polyline points="1022.6,1304.2 1016.3,1310.2 1022.6,1316.2" stroke-width="1.7" stroke-linejoin="miter" stroke-linecap="butt"/>
<line x1="1032" y1="1310.2" x2="1053.4" y2="1294.7" stroke-width="1.9" stroke-linecap="butt"/>
<polygon points="1051.5,1296 1042.1,1298.4 1046.3,1304.2" fill="#111" stroke="none"/>
<circle cx="1032" cy="1310.2" r="3.2" fill="#111" stroke="none"/>
<circle cx="1053.4" cy="1294.7" r="3.4" fill="#111" stroke="none"/>
<circle cx="1053.9" cy="1322.1" r="3.3" fill="#111" stroke="none"/>
<polyline points="1053.9,1322.1 1053.9,1332.5 1013.7,1332.5" stroke-width="1.9" stroke-linejoin="miter" stroke-linecap="butt"/>
<circle cx="1013.7" cy="1332.1" r="5.8" fill="#111" stroke="none"/>
<line x1="1007.4" y1="1323.5" x2="1007.4" y2="1341.6" stroke-width="1.6" stroke-linecap="butt"/>
<line x1="1004.3" y1="1327.4" x2="1004.3" y2="1337.4" stroke-width="1.6" stroke-linecap="butt"/>
<line x1="1000.8" y1="1330" x2="1000.8" y2="1334.8" stroke-width="1.6" stroke-linecap="butt"/>
<text x="1135.4" y="1493.8" text-anchor="end" style="font-family:'DejaVu Serif','Liberation Serif',serif;font-weight:bold;font-size:11.2px;letter-spacing:0.62px;fill:#fff;stroke:#000;stroke-width:2.3px;paint-order:stroke;stroke-linejoin:miter">avto-shema.ru</text>
</g>
</svg>
</body></html>
